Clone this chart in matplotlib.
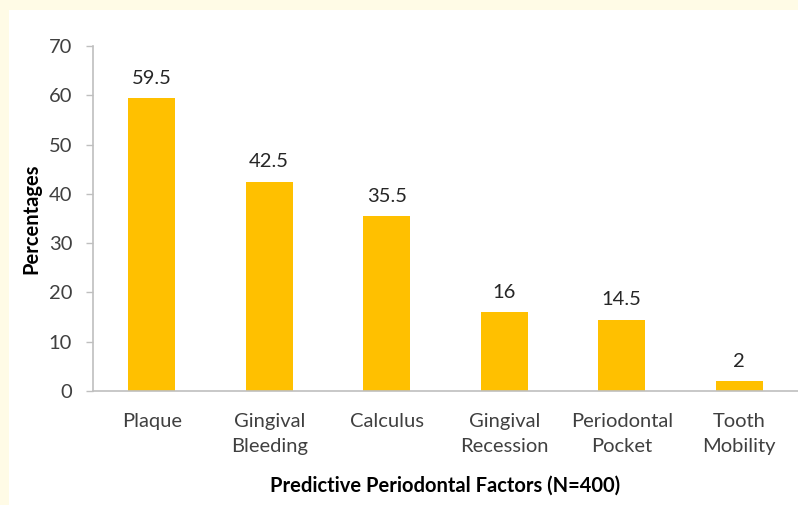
import matplotlib
matplotlib.use('Agg')
import matplotlib.pyplot as plt
from matplotlib.patches import Rectangle

# data
factors = ['Plaque', 'Gingival\nBleeding', 'Calculus', 'Gingival\nRecession',
           'Periodontal\nPocket', 'Tooth\nMobility']
percentages = [59.5, 42.5, 35.5, 16, 14.5, 2]
value_labels = ['59.5', '42.5', '35.5', '16', '14.5', '2']
yticks = [0, 10, 20, 30, 40, 50, 60, 70]

plt.rcParams['font.family'] = ['Lato', 'DejaVu Sans']

fig = plt.figure(figsize=(7.98, 5.05), dpi=100, facecolor='#FFFBE6')
# white panel inside the cream frame
fig.patches.append(Rectangle((9 / 798, 0), 1, 1 - 10 / 505, transform=fig.transFigure,
                             facecolor='white', edgecolor='none', zorder=-10))

ax = fig.add_axes([93 / 798, 1 - 391 / 505, 1 - 93 / 798, (391 - 46) / 505])
ax.set_facecolor('none')

x = list(range(len(factors)))
ax.bar(x, percentages, width=0.4, color='#FFC000', zorder=2)
for xi, v, lab in zip(x, percentages, value_labels):
    ax.annotate(lab, (xi, v), xytext=(0, 8), textcoords='offset points',
                ha='center', va='bottom', fontsize=14.5, color='#262626')

ax.set_xlim(-0.5, len(factors) - 0.5)
ax.set_ylim(0, 70)
ax.set_yticks(yticks)
ax.set_xticks(x)
ax.set_xticklabels(factors, fontsize=14.5, color='#404040', linespacing=1.55)
ax.tick_params(axis='y', labelsize=14.5, labelcolor='#404040', color='#BFBFBF',
               length=5, width=1, pad=10)
ax.tick_params(axis='x', length=0, pad=16)

for s in ['top', 'right']:
    ax.spines[s].set_visible(False)
ax.spines['left'].set_color('#BFBFBF')
ax.spines['bottom'].set_color('#BFBFBF')
ax.spines['left'].set_linewidth(1.2)
ax.spines['bottom'].set_linewidth(1.2)

ax.set_ylabel('Percentages', fontsize=14.5, fontweight='bold', color='black', labelpad=5)
ax.set_xlabel('Predictive Periodontal Factors (N=400)', fontsize=14.5,
              fontweight='bold', color='black', labelpad=15)

plt.savefig('out.png', dpi=100, facecolor=fig.get_facecolor())
